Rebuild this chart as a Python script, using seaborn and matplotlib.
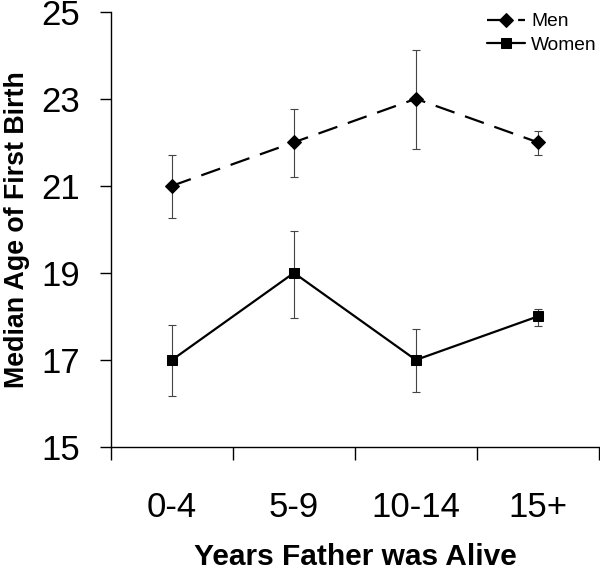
import numpy as np
import pandas as pd
import matplotlib.pyplot as plt
import seaborn as sns
from matplotlib.ticker import FixedLocator

# --- data ---
groups = ["0-4", "5-9", "10-14", "15+"]
men = [21, 22, 23, 22]
men_low = [20.26, 21.21, 21.85, 21.71]
men_high = [21.71, 22.77, 24.11, 22.26]
women = [17, 19, 17, 18]
women_low = [16.17, 17.97, 16.26, 17.78]
women_high = [17.80, 19.97, 17.71, 18.17]
y_ticks = [15, 17, 19, 21, 23, 25]

df = pd.DataFrame({
    "years": groups * 2,
    "age": men + women,
    "sex": ["Men"] * len(groups) + ["Women"] * len(groups),
})

sns.set_style("ticks")
plt.rcParams["font.family"] = ["Liberation Sans", "DejaVu Sans"]
plt.rcParams.update({"text.color": "black", "axes.labelcolor": "black",
                     "xtick.color": "black", "ytick.color": "black"})

fig = plt.figure(figsize=(6.0, 5.69), dpi=100)
ax = fig.add_axes([0.185, 0.2144, 0.813, 0.765])

# error bars first so markers sit on top
pos = np.arange(len(groups))
for vals, lo, hi in [(men, men_low, men_high), (women, women_low, women_high)]:
    vals = np.array(vals)
    yerr = [vals - np.array(lo), np.array(hi) - vals]
    ax.errorbar(pos, vals, yerr=yerr, fmt="none", ecolor="#444444",
                elinewidth=0.8, capsize=3, capthick=0.8, zorder=1)

sns.lineplot(data=df, x="years", y="age", hue="sex", style="sex",
             palette={"Men": "black", "Women": "black"},
             markers={"Men": "D", "Women": "s"},
             dashes={"Men": (9, 5), "Women": ""},
             markersize=7, linewidth=1.6, markeredgecolor="black",
             sort=False, ax=ax, zorder=3)

ax.set_ylim(15, 25)
ax.set_xlim(-0.5, len(groups) - 0.5)
ax.set_yticks(y_ticks)
ax.tick_params(axis="y", labelsize=25, length=8, width=1, pad=14)

# ticks sit on the category boundaries, labels between them
ax.xaxis.set_major_locator(FixedLocator(np.arange(len(groups) + 1) - 0.5))
ax.xaxis.set_minor_locator(FixedLocator(pos))
ax.set_xticklabels([], minor=False)
ax.set_xticklabels(groups, minor=True)
ax.tick_params(axis="x", which="major", length=9, width=1)
ax.tick_params(axis="x", which="minor", length=0, labelsize=25, pad=32)

for side in ["top", "right"]:
    ax.spines[side].set_visible(False)
for side in ["left", "bottom"]:
    ax.spines[side].set_color("black")
    ax.spines[side].set_linewidth(1)

ax.set_xlabel("Years Father was Alive", fontsize=21.5, fontweight="bold", labelpad=13)
ax.set_ylabel("Median Age of First Birth", fontsize=19.3, fontweight="bold")
ax.yaxis.set_label_coords(-0.166, 0.5)

handles, labels = ax.get_legend_handles_labels()
ax.legend(handles, labels, loc="upper right", bbox_to_anchor=(1.02, 1.004),
          bbox_transform=fig.transFigure, frameon=False, fontsize=13.8,
          handlelength=2.0, handletextpad=0.3, labelspacing=0.3, borderpad=0.3)

fig.savefig("out.png", dpi=100)
